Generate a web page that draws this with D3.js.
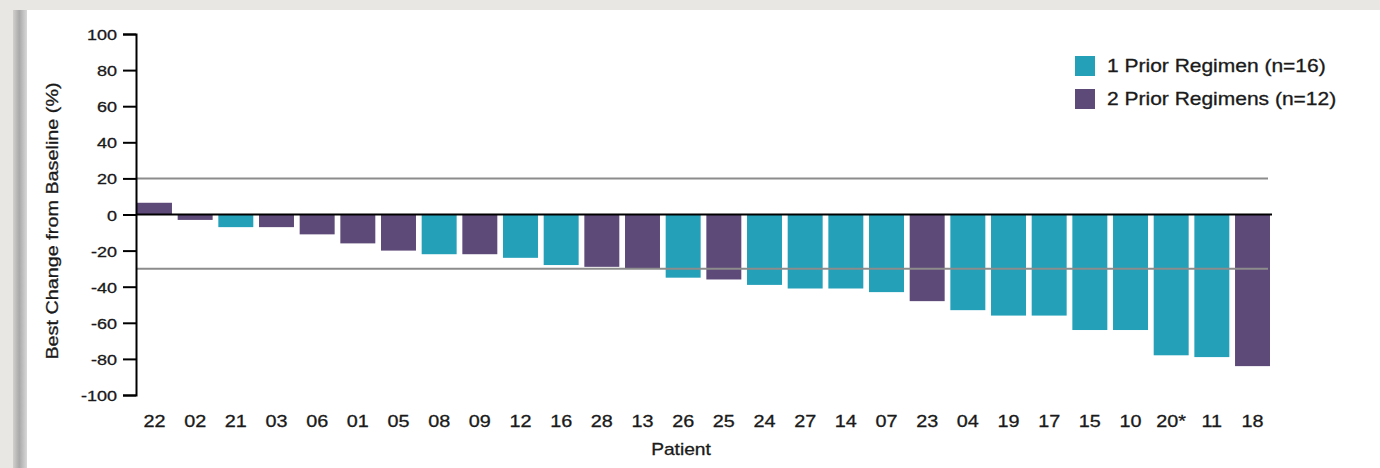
<!DOCTYPE html>
<html>
<head>
<meta charset="utf-8">
<script src="https://cdn.jsdelivr.net/npm/d3@7"></script>
<style>
  html, body { margin: 0; padding: 0; background: #e9e7e3; }
  svg { display: block; }
  text { font-family: "Liberation Sans", Arial, sans-serif; fill: #1a1a1a; stroke: #1a1a1a; stroke-width: 0.3px; }
</style>
</head>
<body>
<svg id="chart" width="1380" height="468"></svg>
<script>
// Waterfall plot: best change from baseline per patient
const patients = ["22","02","21","03","06","01","05","08","09","12","16","28","13","26","25","24","27","14","07","23","04","19","17","15","10","20*","11","18"];
const priorRegimens = [2,2,1,2,2,2,2,1,2,1,1,2,2,1,2,1,1,1,1,2,1,1,1,1,1,1,1,2];
const bestChange = [6.5,-3,-7,-7,-11,-16,-20,-22,-22,-24,-28,-29,-30,-35,-36,-39,-41,-41,-43,-48,-53,-56,-56,-64,-64,-78,-79,-84];
const yTicks = [100,80,60,40,20,0,-20,-40,-60,-80,-100];
const referenceLines = [20, -30];
const legendItems = [
  { group: 1, label: "1 Prior Regimen (n=16)" },
  { group: 2, label: "2 Prior Regimens (n=12)" }
];

const colors = { 1: "#24a0b9", 2: "#5d4a78" };
const stretch = 1.2;

const svg = d3.select("#chart");

// panel background with a shaded left edge
const defs = svg.append("defs");
const grad = defs.append("linearGradient").attr("id", "edge").attr("x1", "0").attr("x2", "1");
grad.append("stop").attr("offset", "0").attr("stop-color", "#d2d0cd");
grad.append("stop").attr("offset", "0.45").attr("stop-color", "#a9a9a9");
grad.append("stop").attr("offset", "1").attr("stop-color", "#d8d8d8");
svg.append("rect").attr("x", 13).attr("y", 10).attr("width", 14).attr("height", 458).attr("fill", "url(#edge)");
svg.append("rect").attr("x", 27).attr("y", 10).attr("width", 1353).attr("height", 458).attr("fill", "#ffffff");

const x = d3.scaleBand().domain(patients).range([137, 1270]).paddingInner(0.14).paddingOuter(0);
const y = d3.scaleLinear().domain([-100, 100]).range([395, 34]);
const axisX = 136;
const lineEnd = 1270;

// bars
const rows = patients.map((p, i) => ({ p, v: bestChange[i], g: priorRegimens[i] }));
svg.append("g").selectAll("rect").data(rows).join("rect")
  .attr("x", d => x(d.p))
  .attr("width", x.bandwidth())
  .attr("y", d => y(Math.max(0, d.v)))
  .attr("height", d => Math.abs(y(d.v) - y(0)))
  .attr("fill", d => colors[d.g]);

// reference lines
svg.append("g").selectAll("line").data(referenceLines).join("line")
  .attr("x1", axisX).attr("x2", lineEnd - 2)
  .attr("y1", d => y(d)).attr("y2", d => y(d))
  .attr("stroke", "#8c8c8c").attr("stroke-width", 2);

// zero line
svg.append("line")
  .attr("x1", axisX).attr("x2", lineEnd + 2)
  .attr("y1", y(0)).attr("y2", y(0))
  .attr("stroke", "#000").attr("stroke-width", 2.2);

// y axis
const yAxis = svg.append("g")
  .attr("transform", `translate(${axisX},0)`)
  .call(d3.axisLeft(y).tickValues(yTicks).tickSize(13).tickSizeOuter(13).tickFormat(d => String(d)));
yAxis.select(".domain").attr("stroke", "#000").attr("stroke-width", 2);
yAxis.selectAll(".tick line").attr("stroke", "#000").attr("stroke-width", 2);
yAxis.selectAll(".tick text")
  .attr("x", null).attr("dy", null)
  .attr("transform", `translate(-19,5.5) scale(${stretch},1)`)
  .attr("font-size", 15)
  .attr("fill", "#1a1a1a")
  .style("font-family", "'Liberation Sans', Arial, sans-serif");

// x labels
svg.append("g").selectAll("text").data(patients).join("text")
  .attr("transform", d => `translate(${x(d) + x.bandwidth() / 2},427) scale(${stretch},1)`)
  .attr("text-anchor", "middle")
  .attr("font-size", 16.5)
  .text(d => d);

// axis titles
svg.append("text")
  .attr("transform", `translate(681,455) scale(${stretch},1)`)
  .attr("text-anchor", "middle")
  .attr("font-size", 16)
  .text("Patient");

svg.append("text")
  .attr("transform", `translate(58,221) rotate(-90) scale(${stretch},1)`)
  .attr("text-anchor", "middle")
  .attr("font-size", 16.5)
  .text("Best Change from Baseline (%)");

// legend
const legend = svg.append("g").selectAll("g").data(legendItems).join("g")
  .attr("transform", (d, i) => `translate(1075,${56 + i * 33})`);
legend.append("rect").attr("width", 20).attr("height", 20).attr("fill", d => colors[d.group]);
legend.append("text")
  .attr("transform", `translate(32,16) scale(${stretch},1)`)
  .attr("font-size", 17.5)
  .text(d => d.label);
</script>
</body>
</html>
